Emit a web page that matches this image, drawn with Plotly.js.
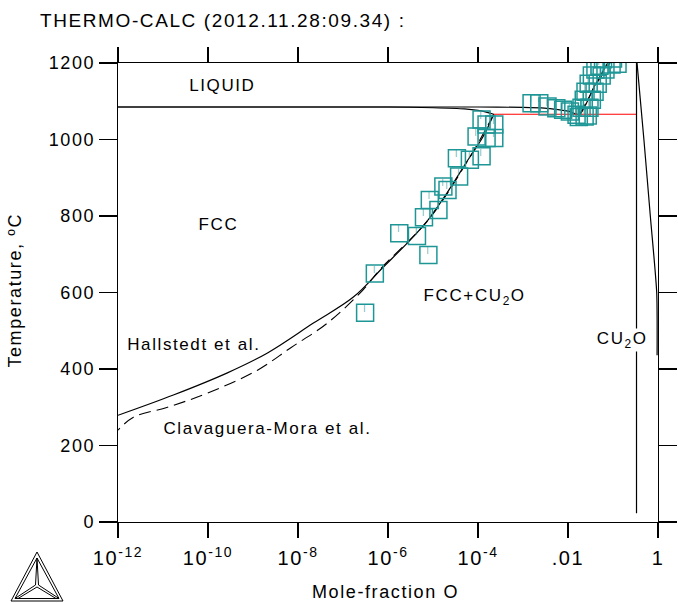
<!DOCTYPE html>
<html>
<head>
<meta charset="utf-8">
<script src="https://cdn.plot.ly/plotly-3.0.1.min.js"></script>
<style>
  html, body { margin: 0; padding: 0; background: #fff; }
  #chart { width: 678px; height: 603px; position: relative; }
  #chart svg text { letter-spacing: 1.6px; }
  #logo { position: absolute; left: 10px; top: 551px; }
</style>
</head>
<body>
<div id="chart"></div>
<svg id="logo" width="54" height="52" viewBox="0 0 54 52">
  <g fill="none" stroke="#000" stroke-width="1">
    <polygon points="27,1 1,50 53,50"/>
    <polygon points="27,7 5,47.5 49,47.5"/>
    <line x1="27" y1="7" x2="25.5" y2="34"/>
    <line x1="27" y1="7" x2="28.5" y2="34"/>
    <line x1="5" y1="47.5" x2="25.5" y2="34"/>
    <line x1="8" y1="47.5" x2="27" y2="36"/>
    <line x1="49" y1="47.5" x2="28.5" y2="34"/>
    <line x1="46" y1="47.5" x2="27" y2="36"/>
  </g>
</svg>
<script>
// ---- tick labels ----
const xTickVals = [1e-12, 1e-10, 1e-8, 1e-6, 1e-4, 1e-2, 1];
const xTickText = ['10<sup>-12</sup>', '10<sup>-10</sup>', '10<sup>-8</sup>', '10<sup>-6</sup>', '10<sup>-4</sup>', '.01', '1'];
const yTickVals = [0, 200, 400, 600, 800, 1000, 1200];

// ---- experimental points (mole-fraction O, T in C) ----
const expX = [3.1e-7, 5.1e-7, 1.78e-6, 7.9e-6, 4.4e-6, 6.3e-6, 1.32e-5, 8.5e-6, 2.1e-5, 3.8e-5,
              3.4e-5, 6.6e-5, 1.2e-4, 9.3e-5, 1.55e-4, 2.3e-4, 1.2e-4, 1.55e-4, 2.3e-4, 1.7e-5,
              1.55e-3, 2.3e-3, 3.5e-3, 5.5e-3, 7.8e-3, 0.011, 0.0155, 0.0234,
              0.020, 0.0224, 0.0245, 0.0288, 0.0339, 0.0407, 0.050,
              0.030, 0.0339, 0.0389, 0.0457, 0.056, 0.068, 0.093, 0.126, 0.0275, 0.0174, 0.06, 0.1];
const expT = [547, 650, 755, 698, 748, 797, 816, 842, 868, 903,
              951, 947, 956, 1008, 1004, 1004, 1052, 1039, 1039, 877,
              1095, 1095, 1086, 1082, 1078, 1073, 1065, 1060,
              1083, 1104, 1125, 1146, 1167, 1183, 1193,
              1083, 1104, 1125, 1146, 1167, 1183, 1196, 1198, 1063, 1059, 1210, 1212];

// ---- calculated boundaries ----
const liqX = [1e-12, 1e-4, 1e-3, 3e-3, 6e-3, 0.01, 0.0182, 0.037, 0.076];
const liqT = [1085, 1085, 1084, 1082, 1078, 1074, 1066, 1135, 1200];

const liq2X = [0.0182, 0.045, 0.085];
const liq2T = [1066, 1150, 1200];

const solX = [1e-12, 1e-6, 1e-5, 5e-5, 1e-4, 1.6e-4, 2.24e-4];
const solT = [1085, 1085, 1083, 1080, 1076, 1071, 1066];

const solvHX = [2.24e-4, 1.29e-4, 6.0e-5, 2.04e-5, 7.8e-6, 3.1e-6, 7.8e-7, 1.7e-7, 2.2e-8, 2.1e-9, 2.7e-10, 1.7e-11, 1e-12];
const solvHT = [1066, 1007, 947, 860, 790, 737, 666, 588, 520, 442, 390, 332, 279];

const solvCX = [2.24e-4, 6.3e-5, 7.9e-6, 6.6e-7, 2.8e-7, 4.5e-8, 6.8e-9, 1.26e-9, 9.8e-11, 1.26e-11, 2.2e-12, 1e-12];
const solvCT = [1066, 950, 790, 660, 607, 520, 455, 397, 337, 300, 274, 240];

const eutX = [2.24e-4, 0.333];
const eutT = [1066, 1066];

const cu2oX = [0.333, 0.333];
const cu2oT = [1200, 23];

const oRichX = [0.342, 0.486, 0.675, 0.936, 0.955];
const oRichT = [1200, 1000, 800, 600, 436];

const FONT = 'Liberation Sans, Arial, sans-serif';
const TEAL = '#1f9696';

const lineTrace = (x, y, opts) => Object.assign({
  x: x, y: y, type: 'scatter', mode: 'lines', hoverinfo: 'skip',
  line: {color: '#000', width: 1.2}
}, opts || {});

const DASH = '12px,6px';

const traces = [
  lineTrace(solvHX, solvHT, {line: {color: '#000', width: 1.2, shape: 'spline', smoothing: 1}}),
  lineTrace(solvCX, solvCT, {line: {color: '#000', width: 1.1, dash: DASH, shape: 'spline', smoothing: 1}}),
  lineTrace(liqX, liqT, {line: {color: '#000', width: 1.2, shape: 'spline', smoothing: 0.6}}),
  lineTrace(liq2X, liq2T, {line: {color: '#000', width: 1.1, dash: DASH}}),
  lineTrace(solX, solT, {line: {color: '#000', width: 1.2, shape: 'spline', smoothing: 0.8}}),
  lineTrace(eutX, eutT, {line: {color: '#ff0000', width: 1.1}}),
  lineTrace(cu2oX, cu2oT),
  lineTrace(oRichX, oRichT, {line: {color: '#000', width: 1.2, shape: 'spline', smoothing: 0.6}}),
  {
    x: expX, y: expT, type: 'scatter', mode: 'markers+text',
    text: expX.map(() => '|<br>\u00a0'),
    textposition: 'middle center',
    textfont: {family: FONT, size: 7, color: TEAL},
    marker: {symbol: 'square-open', size: 17, color: TEAL, line: {color: TEAL, width: 1.5}},
    hoverinfo: 'skip'
  }
];

const ann = (text, x, y, extra) => Object.assign({
  text: text, x: x, y: y, xref: 'x', yref: 'y', showarrow: false,
  xanchor: 'center', yanchor: 'middle',
  font: {family: FONT, size: 17, color: '#000'}
}, extra || {});

const layout = {
  width: 678, height: 603,
  margin: {l: 118, r: 20, t: 63, b: 81, pad: 0},
  paper_bgcolor: '#fff', plot_bgcolor: '#fff',
  showlegend: false,
  title: {
    text: 'THERMO-CALC (2012.11.28:09.34) :',
    x: 40 / 678, xanchor: 'left', xref: 'container',
    y: 1 - 20 / 603, yanchor: 'middle', yref: 'container',
    font: {family: FONT, size: 19, color: '#000'}
  },
  xaxis: {
    type: 'log', range: [-12, 0],
    tickvals: xTickVals, ticktext: xTickText,
    ticks: 'outside', ticklen: 15, tickwidth: 1.2, tickcolor: '#000',
    showline: true, linewidth: 1.2, linecolor: '#000', mirror: 'ticks',
    showgrid: false, zeroline: false,
    tickfont: {family: FONT, size: 20, color: '#000'},
    ticklabelstandoff: 3
  },
  yaxis: {
    range: [0, 1200],
    tickvals: yTickVals,
    ticks: 'outside', ticklen: 18, tickwidth: 1.2, tickcolor: '#000',
    showline: true, linewidth: 1.2, linecolor: '#000', mirror: 'ticks',
    showgrid: false, zeroline: false,
    tickfont: {family: FONT, size: 18, color: '#000'}
  },
  annotations: [
    ann('LIQUID', -9.68, 1141),
    ann('FCC', -9.77, 779),
    ann('FCC+CU<sub>2</sub>O', -4.07, 588),
    ann('Hallstedt et al.', -10.32, 463),
    ann('Clavaguera-Mora et al.', -8.68, 245),
    ann('CU<sub>2</sub>O', -0.81, 476, {bgcolor: '#fff', borderpad: 0}),
    {
      text: 'Mole-fraction O', xref: 'paper', yref: 'paper', x: 0.495, y: -0.152,
      xanchor: 'center', yanchor: 'middle', showarrow: false,
      font: {family: FONT, size: 18, color: '#000'}
    },
    {
      text: 'Temperature, ºC', xref: 'paper', yref: 'paper', x: -0.19, y: 0.505,
      xanchor: 'center', yanchor: 'middle', showarrow: false, textangle: -90,
      font: {family: FONT, size: 18, color: '#000'}
    }
  ]
};

Plotly.newPlot('chart', traces, layout, {displayModeBar: false, staticPlot: true});
</script>
</body>
</html>
